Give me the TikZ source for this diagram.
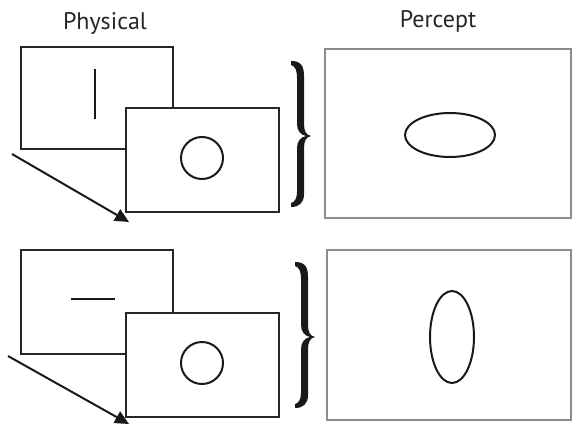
\documentclass[tikz,border=0pt]{standalone}
\usepackage{fontspec}
\setmainfont{PT Sans}
\usetikzlibrary{arrows.meta}
\begin{document}
\begin{tikzpicture}[x=1pt,y=-1pt,
  frame/.style={draw=black!85,line width=2.6pt,fill=white},
  pframe/.style={draw=black!45,line width=2.4pt},
  outl/.style={draw=black!90,line width=2pt},
  motion/.style={draw=black!90,line width=2pt,-{Triangle[length=14pt,width=13pt]}},
  ttl/.style={font=\fontsize{24}{28}\selectfont,inner sep=0pt,text=black!85}]
\useasboundingbox (0,0) rectangle (572,425);
\fill[white] (0,0) rectangle (572,425);
\node[ttl] (phys) at (105,23) {Physical};
\node[ttl] (perc) at (438,21) {Percept};
% brace definition
\def\bracepath{(291,61) .. controls (301,61) and (304,66) .. (304,76) -- (304,124) .. controls (304,131) and (306,135) .. (311,136) .. controls (306,137) and (304,141) .. (304,148) -- (304,194) .. controls (304,203) and (299,207) .. (291,207) -- (291,203) .. controls (295,202) and (297,198) .. (297,192) -- (297,148) .. controls (297,141) and (301,137) .. (306,136) .. controls (301,135) and (297,131) .. (297,124) -- (297,78) .. controls (297,70) and (295,66) .. (291,65) -- cycle}
% ---- top row
\draw[frame] (21,47) rectangle (173,149);
\draw[outl] (95,69) -- (95,119);
\coordinate (a1s) at (12,154);
\coordinate (a1e) at (129,222);
\draw[motion] (a1s) -- (a1e);
\draw[frame] (126,108) rectangle (279,212);
\draw[outl] (202,158) circle (21);
\fill[black!90] \bracepath;
\draw[pframe] (325,49) rectangle (571,218);
\draw[outl] (450,135) ellipse (45 and 22);
% ---- bottom row
\draw[frame] (21,250) rectangle (173,354);
\draw[outl] (71,299) -- (115,299);
\coordinate (a2s) at (8,356);
\coordinate (a2e) at (129,424);
\draw[motion] (a2s) -- (a2e);
\draw[frame] (126,313) rectangle (279,417);
\draw[outl] (202,363) circle (21);
\begin{scope}[shift={(4,201)}]
\fill[black!90] \bracepath;
\end{scope}
\draw[pframe] (327,250) rectangle (571,420);
\draw[outl] (452,337) ellipse (22 and 46);
\end{tikzpicture}
\end{document}
